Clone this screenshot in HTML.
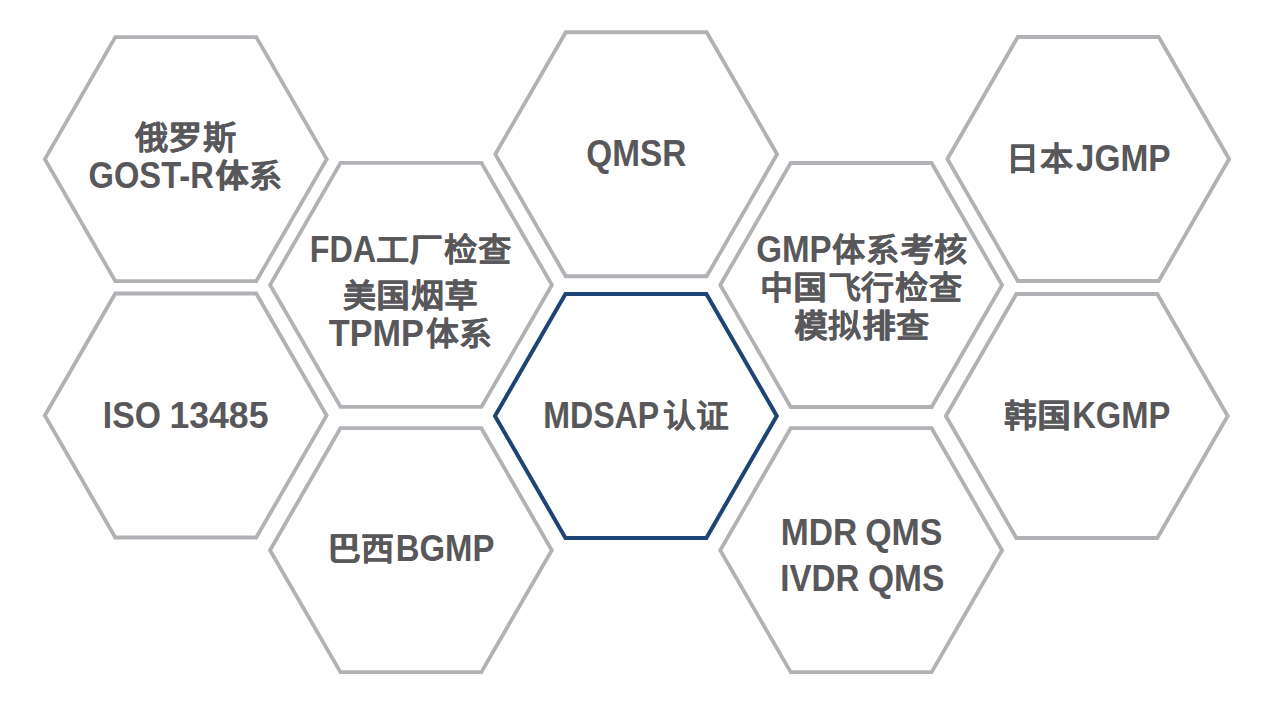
<!DOCTYPE html>
<html lang="zh-CN"><head><meta charset="utf-8"><title>hex</title><style>
html,body{margin:0;padding:0;background:#fff;width:1270px;height:705px;overflow:hidden}
.t{position:absolute;left:0;top:0;font-family:"Liberation Sans",sans-serif;font-weight:bold;line-height:44px;white-space:nowrap;color:#58575a;transform-origin:0 0}
.c{font-size:32.0px;letter-spacing:2.30px;text-shadow:0.35px 0 0 #58575a}
.c b{display:inline-block;font-weight:bold;transform:scaleX(1.050)}
.l{font-size:36px}
svg{position:absolute;left:0;top:0}
</style></head><body>
<svg width="1270" height="705" viewBox="0 0 1270 705">
<polygon points="44.90,159.15 115.35,37.13 256.25,37.13 326.70,159.15 256.25,281.17 115.35,281.17" fill="none" stroke="#b1b2b5" stroke-width="3.8"/>
<polygon points="270.10,284.90 340.55,162.88 481.45,162.88 551.90,284.90 481.45,406.92 340.55,406.92" fill="none" stroke="#b1b2b5" stroke-width="3.8"/>
<polygon points="495.30,154.25 565.75,32.23 706.65,32.23 777.10,154.25 706.65,276.27 565.75,276.27" fill="none" stroke="#b1b2b5" stroke-width="3.8"/>
<polygon points="720.25,285.00 790.70,162.98 931.60,162.98 1002.05,285.00 931.60,407.02 790.70,407.02" fill="none" stroke="#b1b2b5" stroke-width="3.8"/>
<polygon points="947.35,159.00 1017.80,36.98 1158.70,36.98 1229.15,159.00 1158.70,281.02 1017.80,281.02" fill="none" stroke="#b1b2b5" stroke-width="3.8"/>
<polygon points="44.85,415.50 115.30,293.48 256.20,293.48 326.65,415.50 256.20,537.52 115.30,537.52" fill="none" stroke="#b1b2b5" stroke-width="3.8"/>
<polygon points="270.00,550.20 340.45,428.18 481.35,428.18 551.80,550.20 481.35,672.22 340.45,672.22" fill="none" stroke="#b1b2b5" stroke-width="3.8"/>
<polygon points="495.00,415.90 565.45,293.88 706.35,293.88 776.80,415.90 706.35,537.92 565.45,537.92" fill="none" stroke="#1d4377" stroke-width="4.0"/>
<polygon points="720.25,550.20 790.70,428.18 931.60,428.18 1002.05,550.20 931.60,672.22 790.70,672.22" fill="none" stroke="#b1b2b5" stroke-width="3.8"/>
<polygon points="945.90,416.00 1016.35,293.98 1157.25,293.98 1227.70,416.00 1157.25,538.02 1016.35,538.02" fill="none" stroke="#b1b2b5" stroke-width="3.8"/>
</svg>
<div class="t c" style="transform:translate(135.50px,116.10px) scaleX(0.9905)"><b>俄</b><b>罗</b><b>斯</b></div>
<div class="t l" style="transform:translate(88.52px,154.20px) scaleX(0.9076)">GOST-R</div>
<div class="t c" style="transform:translate(216.27px,153.80px) scaleX(0.9840)"><b>体</b><b>系</b></div>
<div class="t l" style="transform:translate(586.29px,131.90px) scaleX(0.9258)">QMSR</div>
<div class="t c" style="transform:translate(1006.98px,137.10px) scaleX(0.9824)"><b>日</b><b>本</b></div>
<div class="t l" style="transform:translate(1075.82px,137.20px) scaleX(0.9278)">JGMP</div>
<div class="t l" style="transform:translate(309.71px,228.40px) scaleX(0.8988)">FDA</div>
<div class="t c" style="transform:translate(376.68px,227.60px) scaleX(0.9877)"><b>工</b><b>厂</b><b>检</b><b>查</b></div>
<div class="t c" style="transform:translate(343.78px,273.90px) scaleX(0.9838)"><b>美</b><b>国</b><b>烟</b><b>草</b></div>
<div class="t l" style="transform:translate(328.79px,312.20px) scaleX(0.9499)">TPMP</div>
<div class="t c" style="transform:translate(426.67px,311.70px) scaleX(0.9765)"><b>体</b><b>系</b></div>
<div class="t l" style="transform:translate(756.20px,228.10px) scaleX(0.9201)">GMP</div>
<div class="t c" style="transform:translate(832.77px,227.90px) scaleX(0.9896)"><b>体</b><b>系</b><b>考</b><b>核</b></div>
<div class="t c" style="transform:translate(760.65px,265.90px) scaleX(0.9832)"><b>中</b><b>国</b><b>飞</b><b>行</b><b>检</b><b>查</b></div>
<div class="t c" style="transform:translate(795.13px,304.10px) scaleX(0.9858)"><b>模</b><b>拟</b><b>排</b><b>查</b></div>
<div class="t l" style="transform:translate(102.82px,393.90px) scaleX(0.9362)">ISO</div>
<div class="t l" style="transform:translate(169.44px,393.90px) scaleX(0.9890)">13485</div>
<div class="t l" style="transform:translate(543.13px,394.00px) scaleX(0.8930)">MDSAP</div>
<div class="t c" style="transform:translate(663.54px,394.30px) scaleX(0.9740)"><b>认</b><b>证</b></div>
<div class="t c" style="transform:translate(1004.75px,394.10px) scaleX(0.9821)"><b>韩</b><b>国</b></div>
<div class="t l" style="transform:translate(1072.19px,394.20px) scaleX(0.9087)">KGMP</div>
<div class="t c" style="transform:translate(328.29px,527.00px) scaleX(0.9855)"><b>巴</b><b>西</b></div>
<div class="t l" style="transform:translate(395.78px,527.30px) scaleX(0.9126)">BGMP</div>
<div class="t l" style="transform:translate(780.73px,511.00px) scaleX(0.9323)">MDR</div>
<div class="t l" style="transform:translate(865.16px,511.00px) scaleX(0.9412)">QMS</div>
<div class="t l" style="transform:translate(780.26px,557.10px) scaleX(0.9187)">IVDR</div>
<div class="t l" style="transform:translate(867.98px,557.10px) scaleX(0.9311)">QMS</div>
</body></html>
